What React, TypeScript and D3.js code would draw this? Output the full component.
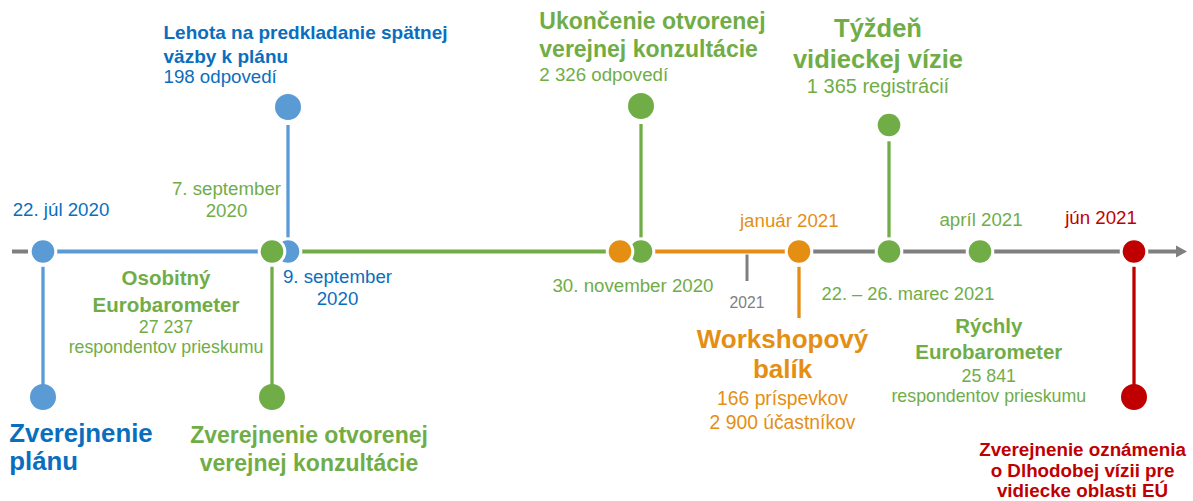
import * as d3 from 'd3'

// milestones sitting on the main axis
const MILESTONE_DATES = ['2020-07-22', '2020-09-07', '2020-09-09', '2020-11-30', '2020-11-30', '2021-01-15', '2021-03-22', '2021-04-15', '2021-06-15']
const MILESTONE_TONES = ['blue', 'green', 'blue', 'orange', 'green', 'orange', 'green', 'green', 'red']
const MILESTONE_SLOT = [0, 0, 0, 0, 1, 0, 0, 0, 0] // 2nd marker on the same day
const DATE_LABELS = [
  ['22. júl 2020'],
  ['7. september', '2020'],
  ['9. september', '2020'],
  [],
  ['30. november 2020'],
  ['január 2021'],
  ['22. – 26. marec 2021'],
  ['apríl 2021'],
  ['jún 2021'],
]

// coloured stretches of the axis: [from milestone, to milestone, tone]
const AXIS_SEGMENTS: [number, number, string][] = [
  [0, 1, 'blue'],
  [2, 4, 'green'],
  [3, 5, 'orange'],
]

const YEAR_TICKS = ['2021-01-01']
const YEAR_TICK_LABELS = ['2021']

// branches off the axis: milestone, direction, has end dot
const BRANCH_FROM = [0, 1, 2, 4, 5, 6, 8]
const BRANCH_DIR = ['down', 'down', 'up', 'up', 'down', 'up', 'down']
const BRANCH_DOT = [true, true, true, true, false, true, true]

// event texts
const TITLE_BOLD = [
  ['Lehota na predkladanie spätnej', 'väzby k plánu'],
  ['Ukončenie otvorenej', 'verejnej konzultácie'],
  ['Týždeň', 'vidieckej vízie'],
  ['Osobitný', 'Eurobarometer'],
  ['Zverejnenie', 'plánu'],
  ['Zverejnenie otvorenej', 'verejnej konzultácie'],
  ['Workshopový', 'balík'],
  ['Rýchly', 'Eurobarometer'],
  ['Zverejnenie oznámenia', 'o Dlhodobej vízii pre', 'vidiecke oblasti EÚ'],
]
const TITLE_NOTES = [
  ['198 odpovedí'],
  ['2 326 odpovedí'],
  ['1 365 registrácií'],
  ['27 237', 'respondentov prieskumu'],
  [],
  [],
  ['166 príspevkov', '2 900 účastníkov'],
  ['25 841', 'respondentov prieskumu'],
  [],
]
const TITLE_TONES = ['blue', 'green', 'green', 'green', 'blue', 'green', 'orange', 'green', 'red']

const DOT = { blue: '#5B9BD5', green: '#70AD47', orange: '#E48F14', red: '#C00000', gray: '#7F7F7F' }
const INK = { blue: '#0A6EBE', green: '#70AD47', orange: '#E48F14', red: '#C00000', gray: '#7F7F7F' }
const FONT = '"Liberation Sans", Arial, sans-serif'

const W = 1193
const H = 501
const AXIS_Y = 251.5
const R = 11.3
const R_END = 13
const RING = 3
const SLOT_GAP = 21

const parse = d3.timeParse('%Y-%m-%d')

// piecewise time scale: the timeline is compressed towards 2021
const x = d3.scaleTime()
  .domain(['2020-07-22', '2020-09-07', '2020-09-09', '2020-11-30', '2021-01-01', '2021-01-15', '2021-03-22', '2021-04-15', '2021-06-15'].map((d) => parse(d) as Date))
  .range([43, 272, 288, 620, 747, 799, 889, 980, 1134])

const mx = (i: number) => x(parse(MILESTONE_DATES[i]) as Date) + MILESTONE_SLOT[i] * SLOT_GAP

// layout of labels (x, first baseline, line steps, anchor, sizes)
const DATE_POS = [
  { x: 61, y: 216, step: 22 },
  { x: 226.5, y: 195, step: 22.3 },
  { x: 337.5, y: 282.7, step: 22.3 },
  { x: 0, y: 0, step: 0 },
  { x: 633, y: 292.3, step: 0 },
  { x: 789.3, y: 226.7, step: 0 },
  { x: 908, y: 300, step: 0 },
  { x: 981, y: 226, step: 0 },
  { x: 1101, y: 224, step: 0 },
]
const DATE_SIZE = [18.7, 18.7, 18.7, 18.7, 18.7, 18.7, 18.3, 18.7, 18.7]

const BRANCH_END = [397, 397, 107, 106, 318, 125, 397]
const BRANCH_R = [R_END, R_END, R_END, R_END, 0, R, R_END]

const TITLE_POS = [
  { x: 163.5, anchor: 'start', ys: [39.3, 63.3, 82.7], bold: 19, note: 18.7 },
  { x: 539.3, anchor: 'start', ys: [29.3, 56.7, 81], bold: 23, note: 18.7 },
  { x: 878, anchor: 'middle', ys: [36.7, 68.3, 93.3], bold: 25.5, note: 20 },
  { x: 166, anchor: 'middle', ys: [285, 311.7, 333, 353], bold: 20.5, note: 17.8 },
  { x: 9.3, anchor: 'start', ys: [441.7, 470], bold: 25.8, note: 0 },
  { x: 309, anchor: 'middle', ys: [443.3, 470.7], bold: 23, note: 0 },
  { x: 782.5, anchor: 'middle', ys: [348.3, 378.3, 405, 429.3], bold: 26, note: 19.3 },
  { x: 988.8, anchor: 'middle', ys: [333.3, 359, 381.7, 401.7], bold: 20.5, note: 17.8 },
  { x: 1082.5, anchor: 'middle', ys: [456, 476.8, 497.2], bold: 18.8, note: 0 },
]

export default function App() {
  const grayFrom = mx(5)
  const arrowBase = 1176
  const arrowTip = 1187

  // right-most markers first, so the left one of a same-day pair sits on top
  const order = d3.range(MILESTONE_DATES.length).sort((a, b) => mx(b) - mx(a))

  return (
    <div style={{ position: 'absolute', left: 0, top: 0 }}>
      <svg width={W} height={H} style={{ display: 'block', background: '#fff', fontFamily: FONT }}>
        {/* lead-in dash and grey tail with arrow */}
        <line x1={12} x2={28} y1={AXIS_Y} y2={AXIS_Y} stroke={DOT.gray} strokeWidth={4} />
        <line x1={grayFrom} x2={arrowBase} y1={AXIS_Y} y2={AXIS_Y} stroke={DOT.gray} strokeWidth={4} />
        <path d={`M${arrowBase},${AXIS_Y - 6}L${arrowTip},${AXIS_Y}L${arrowBase},${AXIS_Y + 6}Z`} fill={DOT.gray} />

        {AXIS_SEGMENTS.map(([a, b, tone], i) => (
          <line key={'s' + i} x1={mx(a)} x2={mx(b)} y1={AXIS_Y} y2={AXIS_Y} stroke={DOT[tone]} strokeWidth={4} />
        ))}

        {/* year tick */}
        {YEAR_TICKS.map((t, i) => {
          const tx = x(parse(t) as Date)
          return (
            <g key={'y' + i}>
              <line x1={tx} x2={tx} y1={AXIS_Y + 3} y2={281} stroke={DOT.gray} strokeWidth={3} />
              <text x={tx} y={308} textAnchor="middle" fontSize={15.7} fill={INK.gray}>{YEAR_TICK_LABELS[i]}</text>
            </g>
          )
        })}

        {/* branches */}
        {BRANCH_FROM.map((m, i) => {
          const bx = mx(m)
          const tone = MILESTONE_TONES[m]
          const up = BRANCH_DIR[i] === 'up'
          const y0 = up ? AXIS_Y - R - 2 : AXIS_Y + R + 4
          const y1 = up ? BRANCH_END[i] + BRANCH_R[i] + 5 : BRANCH_END[i]
          return (
            <g key={'b' + i}>
              <line x1={bx} x2={bx} y1={y0} y2={y1} stroke={DOT[tone]} strokeWidth={3.3} />
              {BRANCH_DOT[i] && <circle cx={bx} cy={BRANCH_END[i]} r={BRANCH_R[i]} fill={DOT[tone]} />}
            </g>
          )
        })}

        {/* axis markers */}
        {order.map((i) => (
          <g key={'m' + i}>
            <circle cx={mx(i)} cy={AXIS_Y} r={R + RING} fill="#fff" />
            <circle cx={mx(i)} cy={AXIS_Y} r={R} fill={DOT[MILESTONE_TONES[i]]} />
          </g>
        ))}

        {/* date labels */}
        {DATE_LABELS.map((lines, i) => (
          <text key={'d' + i} textAnchor="middle" fontSize={DATE_SIZE[i]} fill={INK[MILESTONE_TONES[i]]}>
            {lines.map((t, j) => (
              <tspan key={j} x={DATE_POS[i].x} y={DATE_POS[i].y + j * DATE_POS[i].step}>{t}</tspan>
            ))}
          </text>
        ))}

        {/* event titles */}
        {TITLE_BOLD.map((bold, i) => {
          const p = TITLE_POS[i]
          const lines = [
            ...bold.map((t) => ({ t, b: true })),
            ...TITLE_NOTES[i].map((t) => ({ t, b: false })),
          ]
          return (
            <text key={'t' + i} textAnchor={p.anchor} fill={INK[TITLE_TONES[i]]}>
              {lines.map((l, j) => (
                <tspan key={j} x={p.x} y={p.ys[j]} fontWeight={l.b ? 700 : 400} fontSize={l.b ? p.bold : p.note}>{l.t}</tspan>
              ))}
            </text>
          )
        })}
      </svg>
    </div>
  )
}
